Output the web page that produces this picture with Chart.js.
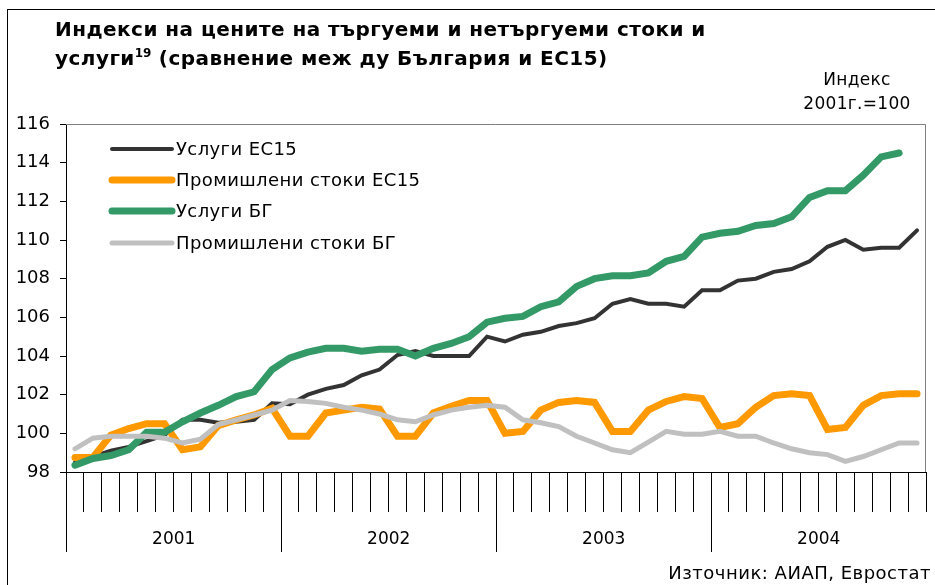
<!DOCTYPE html>
<html lang="bg">
<head>
<meta charset="utf-8">
<title>Индекси на цените</title>
<script src="https://cdn.jsdelivr.net/npm/chart.js@4.4.1/dist/chart.umd.min.js"></script>
<style>
  html, body { margin: 0; padding: 0; background: #fff; }
  #wrap { position: relative; width: 935px; height: 585px; overflow: hidden;
          font-family: "DejaVu Sans", Verdana, sans-serif; color: #000; }
  #frame { position: absolute; left: 7px; top: 9px; width: 960px; height: 620px;
           border-left: 1px solid #000; border-top: 1px solid #000; }
  #title { position: absolute; left: 55px; top: 15px; font-weight: bold;
           font-size: 20px; letter-spacing: 0.45px; line-height: 29px; white-space: nowrap; }
  #title sup { font-size: 12px; line-height: 0; vertical-align: 8px; letter-spacing: 0; }
  #unit { position: absolute; left: 792px; top: 67px; width: 130px; text-align: center;
          font-size: 17px; letter-spacing: 0.3px; line-height: 24px; }
  #source { position: absolute; right: 4px; top: 562px; font-size: 18px; letter-spacing: 0.5px; white-space: nowrap; }
  canvas { position: absolute; left: 0; top: 0; }
</style>
</head>
<body>
<div id="wrap">
  <div id="frame"></div>
  <canvas id="chart" width="935" height="585"></canvas>
  <div id="title">Индекси на цените на търгуеми и нетъргуеми стоки и<br>услуги<sup>19</sup> (сравнение меж ду България и ЕС15)</div>
  <div id="unit">Индекс<br>2001г.=100</div>
  <div id="source">Източник: АИАП, Евростат</div>
</div>
<script>
// categories
const years = ["2001", "2002", "2003", "2004"];
const monthNums = ["01", "02", "03", "04", "05", "06", "07", "08", "09", "10", "11", "12"];
const months = years.flatMap(y => monthNums.map(m => m + "." + y));

// y axis
const yTicks = [98, 100, 102, 104, 106, 108, 110, 112, 114, 116];

// series
const seriesNames = ["Услуги ЕС15", "Промишлени стоки ЕС15", "Услуги БГ", "Промишлени стоки БГ"];

const uslugiEC = [98.5, 98.8, 99.1, 99.3, 99.6, 99.9, 100.7, 100.7, 100.55, 100.6,
  100.7, 101.55, 101.5, 102.0, 102.3, 102.5, 103.0, 103.3, 104.05, 104.25,
  104.0, 104.0, 104.0, 105.0, 104.75, 105.1, 105.25, 105.55, 105.7, 105.95,
  106.7, 106.95, 106.7, 106.7, 106.55, 107.4, 107.4, 107.9, 108.0, 108.35,
  108.5, 108.9, 109.65, 110.0, 109.5, 109.6, 109.6, 110.5];

const promEC = [98.75, 98.75, 99.9, 100.25, 100.5, 100.5, 99.15, 99.3, 100.4, 100.7,
  100.95, 101.3, 99.85, 99.85, 101.05, 101.2, 101.35, 101.25, 99.85, 99.85,
  101.05, 101.4, 101.7, 101.7, 100.0, 100.1, 101.2, 101.6, 101.7, 101.6,
  100.1, 100.1, 101.2, 101.65, 101.9, 101.8, 100.3, 100.5, 101.35, 101.95,
  102.05, 101.95, 100.2, 100.3, 101.45, 101.95, 102.05, 102.05];

const uslugiBG = [98.35, 98.7, 98.85, 99.15, 100.05, 100.05, 100.6, 101.05, 101.45, 101.9,
  102.15, 103.3, 103.9, 104.2, 104.4, 104.4, 104.25, 104.35, 104.35, 104.0,
  104.4, 104.65, 105.0, 105.75, 105.95, 106.05, 106.55, 106.8, 107.6, 108.0,
  108.15, 108.15, 108.3, 108.9, 109.15, 110.15, 110.35, 110.45, 110.75, 110.85,
  111.2, 112.2, 112.55, 112.55, 113.35, 114.3, 114.5, null];

const promBG = [99.2, 99.75, 99.85, 99.85, 99.85, 99.75, 99.5, 99.7, 100.45, 100.7,
  100.95, 101.2, 101.7, 101.65, 101.55, 101.35, 101.2, 101.0, 100.7, 100.6,
  100.95, 101.2, 101.35, 101.45, 101.35, 100.7, 100.55, 100.35, 99.85, 99.5,
  99.15, 99.0, 99.55, 100.1, 99.95, 99.95, 100.1, 99.85, 99.85, 99.5,
  99.2, 99.0, 98.9, 98.55, 98.8, 99.15, 99.5, 99.5];

const FONT = "DejaVu Sans";

// plot frame, year separators and year labels under the month ticks
const yearAxis = {
  id: "yearAxis",
  afterDraw(chart) {
    const { ctx, chartArea: a, scales: { x } } = chart;
    const half = (x.getPixelForValue(1) - x.getPixelForValue(0)) / 2;
    ctx.save();
    // top / right border of plot area
    ctx.strokeStyle = "#7f7f7f";
    ctx.lineWidth = 1;
    ctx.beginPath();
    ctx.moveTo(a.left, a.top + 0.5);
    ctx.lineTo(a.right - 0.5, a.top + 0.5);
    ctx.lineTo(a.right - 0.5, a.bottom);
    ctx.stroke();

    ctx.strokeStyle = "#000";
    ctx.fillStyle = "#000";
    ctx.font = "17px '" + FONT + "'";
    ctx.textAlign = "center";
    ctx.textBaseline = "middle";
    years.forEach((yr, k) => {
      const x0 = Math.round(x.getPixelForValue(k * 12) - half) + 0.5;
      const x1 = x.getPixelForValue(k * 12 + 11) + half;
      ctx.beginPath();
      ctx.moveTo(x0, a.bottom);
      ctx.lineTo(x0, a.bottom + 80);
      ctx.stroke();
      ctx.fillText(yr, (x0 + x1) / 2, a.bottom + 68);
    });
    ctx.restore();
  }
};

// legend drawn inside the plot area
const innerLegend = {
  id: "innerLegend",
  afterDatasetsDraw(chart, args, opts) {
    const { ctx } = chart;
    ctx.save();
    ctx.font = "18px '" + FONT + "'";
    ctx.letterSpacing = "0.4px";
    ctx.textBaseline = "middle";
    ctx.textAlign = "left";
    chart.data.datasets.forEach((ds, k) => {
      const y = opts.rows[k];
      ctx.strokeStyle = ds.borderColor;
      ctx.lineWidth = ds.borderWidth;
      ctx.lineCap = "round";
      ctx.beginPath();
      ctx.moveTo(opts.x0, y);
      ctx.lineTo(opts.x1, y);
      ctx.stroke();
      ctx.fillStyle = "#000";
      ctx.fillText(ds.label, opts.x1 + 4, y + 1);
    });
    ctx.restore();
  }
};

const lineStyle = (label, data, color, width, order) => ({
  label, data, order,
  borderColor: color,
  backgroundColor: color,
  borderWidth: width,
  pointRadius: 0,
  tension: 0,
  fill: false,
  borderCapStyle: "round",
  borderJoinStyle: "miter"
});

new Chart(document.getElementById("chart"), {
  type: "line",
  data: {
    labels: months,
    datasets: [
      lineStyle(seriesNames[0], uslugiEC, "#333333", 4, 4),
      lineStyle(seriesNames[1], promEC, "#ff9900", 7, 3),
      lineStyle(seriesNames[2], uslugiBG, "#339966", 7, 2),
      lineStyle(seriesNames[3], promBG, "#c0c0c0", 5, 1)
    ]
  },
  options: {
    responsive: false,
    animation: false,
    devicePixelRatio: 1,
    layout: { padding: { top: 124, right: 9, bottom: 73, left: 0 } },
    plugins: {
      legend: { display: false },
      tooltip: { enabled: false },
      title: { display: false },
      innerLegend: { rows: [149, 180, 211, 243], x0: 112, x1: 172 }
    },
    scales: {
      x: {
        type: "category",
        offset: true,
        grid: { offset: true, drawOnChartArea: false, drawTicks: true, tickLength: 40, color: "#000", lineWidth: 1 },
        border: { display: true, color: "#000", width: 1 },
        ticks: { display: false, autoSkip: false }
      },
      y: {
        min: yTicks[0],
        max: yTicks[yTicks.length - 1],
        afterBuildTicks: s => { s.ticks = yTicks.map(v => ({ value: v })); },
        afterFit: s => { s.width = 66; },
        grid: { drawOnChartArea: false, drawTicks: true, tickLength: 6, color: "#000" },
        border: { display: true, color: "#000", width: 1 },
        ticks: { color: "#000", padding: 10, font: { family: FONT, size: 18 } }
      }
    }
  },
  plugins: [yearAxis, innerLegend]
});
</script>
</body>
</html>
